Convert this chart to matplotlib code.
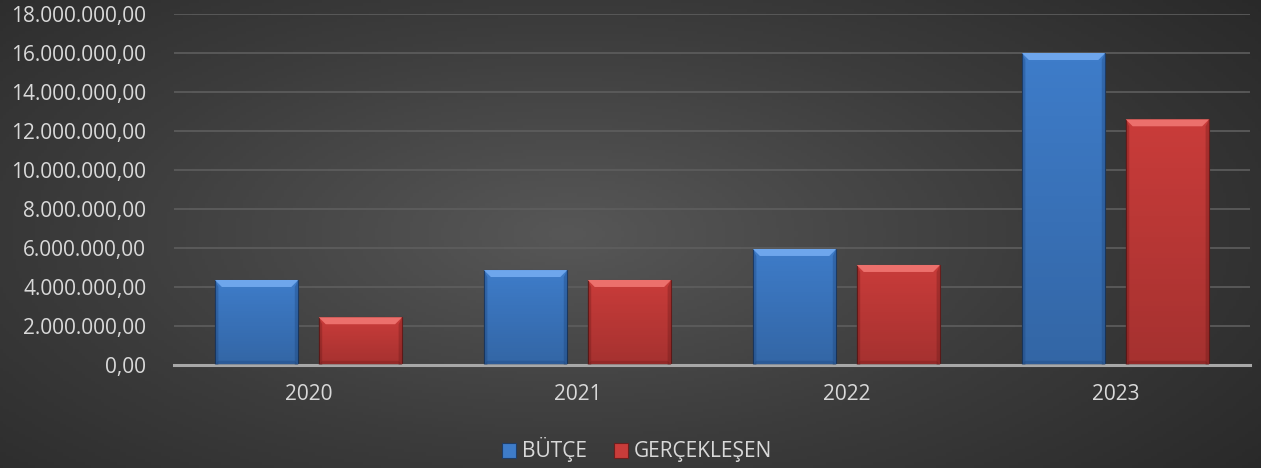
import numpy as np
import matplotlib
matplotlib.use("Agg")
import matplotlib.pyplot as plt
from matplotlib.patches import Polygon
from matplotlib.colors import LinearSegmentedColormap

years = ["2020", "2021", "2022", "2023"]
butce = [4360000, 4870000, 5950000, 16000000]
gerceklesen = [2450000, 4360000, 5130000, 12600000]
series_names = ["BÜTÇE", "GERÇEKLEŞEN"]
y_ticks = [0, 2e6, 4e6, 6e6, 8e6, 10e6, 12e6, 14e6, 16e6, 18e6]

FONT = ["Open Sans", "DejaVu Sans"]
TXT = "#d9d9d9"
BLUE = "#3e7cc9"
RED = "#c93c3a"

W, H = 1261, 468
fig = plt.figure(figsize=(W / 100, H / 100), dpi=100)

# radial gradient background
bg = fig.add_axes([0, 0, 1, 1], zorder=-10)
xx, yy = np.meshgrid(np.linspace(0, 1, 400), np.linspace(0, 1, 150))
r = np.sqrt(((xx - 0.45) / 0.75) ** 2 + ((yy - 0.5) / 0.9) ** 2)
cmap = LinearSegmentedColormap.from_list("bg", ["#575757", "#3c3c3c", "#262626"])
bg.imshow(np.clip(r, 0, 1), cmap=cmap, aspect="auto", extent=[0, 1, 0, 1], vmin=0, vmax=1)
bg.axis("off")

ax = fig.add_axes([174 / W, 1 - 365 / H, (1250 - 174) / W, (365 - 14) / H])
ax.set_facecolor("none")

x = np.arange(len(years))
bw = 0.31
off = 0.193
b1 = ax.bar(x - off, butce, bw, color=BLUE, zorder=3, label=series_names[0],
            edgecolor="#1f3d66", linewidth=0.8)
b2 = ax.bar(x + off, gerceklesen, bw, color=RED, zorder=3, label=series_names[1],
            edgecolor="#6b1f1e", linewidth=0.8)

# smooth vertical shading inside each bar (lighter top, darker bottom)
shade = LinearSegmentedColormap.from_list("sh", [(0, 0, 0, 0.18), (0, 0, 0, 0.0)])
grad = np.linspace(0, 1, 100).reshape(-1, 1)
for rect in list(b1) + list(b2):
    ax.imshow(grad, cmap=shade, origin="lower", aspect="auto", zorder=3.2,
              extent=(rect.get_x(), rect.get_x() + rect.get_width(), 0, rect.get_height()),
              interpolation="bilinear")

ax.set_xlim(-0.5, len(years) - 0.5)
ax.set_ylim(0, 18e6)
ax.set_yticks(y_ticks)


def fmt(v):
    s = f"{v:,.2f}"
    return s.replace(",", "X").replace(".", ",").replace("X", ".")


ax.set_yticklabels([fmt(v) for v in y_ticks])
ax.set_xticks(x)
ax.set_xticklabels(years)
ax.tick_params(axis="both", length=0, colors=TXT, labelsize=15)
ax.tick_params(axis="y", pad=20)
ax.tick_params(axis="x", pad=14)
for lab in ax.get_xticklabels() + ax.get_yticklabels():
    lab.set_family(FONT)
ax.grid(axis="y", color="#5e5e5e", linewidth=1.2, zorder=0)
for s in ["top", "right", "left"]:
    ax.spines[s].set_visible(False)
ax.spines["bottom"].set_color("#a8a8a8")
ax.spines["bottom"].set_linewidth(2.2)
ax.spines["bottom"].set_zorder(5)

# bevel effects drawn in display space from the bars' own geometry
fig.canvas.draw()
bev = 7


def bevel(rect, light, dark):
    bb = rect.get_window_extent()
    x0, x1, y0, y1 = bb.x0, bb.x1, bb.y0, bb.y1
    top = Polygon([[x0, y1], [x1, y1], [x1 - bev, y1 - bev], [x0 + bev, y1 - bev]],
                  closed=True, transform=None, facecolor=light, edgecolor="none", zorder=4)
    left = Polygon([[x0, y0], [x0, y1], [x0 + bev * 0.5, y1 - bev], [x0 + bev * 0.5, y0]],
                   closed=True, transform=None, facecolor=dark, edgecolor="none", zorder=4, alpha=0.3)
    right = Polygon([[x1, y0], [x1, y1], [x1 - bev * 0.5, y1 - bev], [x1 - bev * 0.5, y0]],
                    closed=True, transform=None, facecolor=dark, edgecolor="none", zorder=4, alpha=0.3)
    bottom = Polygon([[x0, y0], [x1, y0], [x1 - bev * 0.5, y0 + bev * 0.6], [x0 + bev * 0.5, y0 + bev * 0.6]],
                     closed=True, transform=None, facecolor=dark, edgecolor="none", zorder=4, alpha=0.25)
    for p in (top, left, right, bottom):
        fig.add_artist(p)


for rect in b1:
    bevel(rect, "#6ea6ec", "#173a6b")
for rect in b2:
    bevel(rect, "#ec706c", "#5e1514")

leg = fig.legend(handles=[b1, b2], labels=series_names, loc="center",
                 bbox_to_anchor=(0.505, 1 - 450 / H), ncol=2, frameon=False,
                 prop={"family": FONT, "size": 15}, labelcolor=TXT,
                 handlelength=0.7, handleheight=0.7, handletextpad=0.25, columnspacing=1.3)

fig.savefig("out.png", dpi=100)
